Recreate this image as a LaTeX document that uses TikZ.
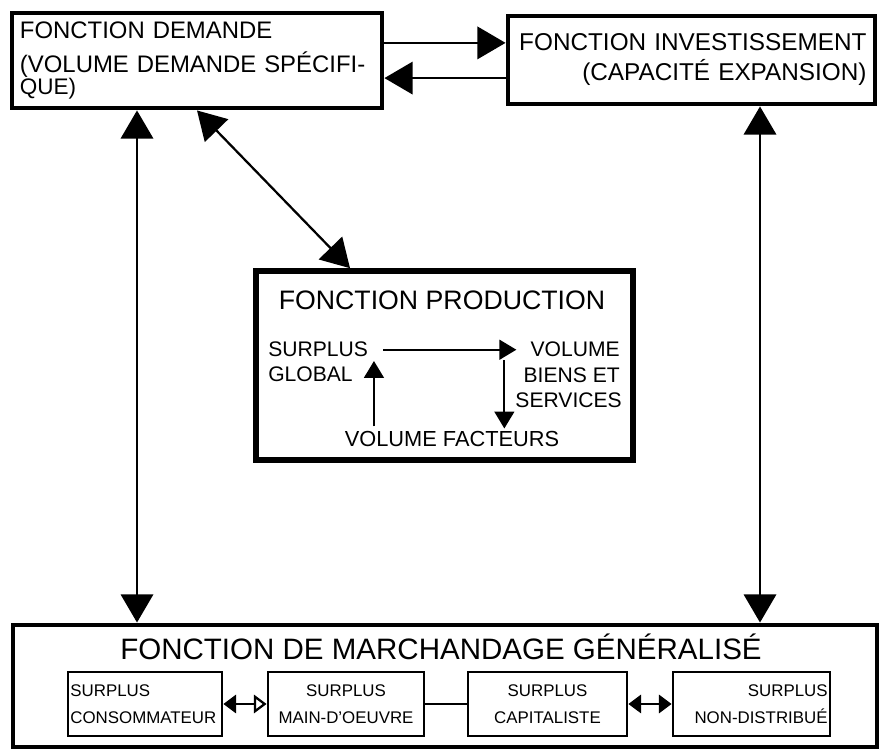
\documentclass[tikz,border=0pt]{standalone}
\usepackage{fontspec}
\setmainfont{Liberation Sans}
\usetikzlibrary{arrows.meta}

\begin{document}
\begin{tikzpicture}[
	bloc/.style={draw, line width=3.5pt, inner xsep=0.2cm, inner ysep=0pt},
	sousbloc/.style={draw, line width=2pt, minimum height=1.6cm, inner xsep=0.06cm, inner ysep=0pt, font=\fontsize{12}{19}\selectfont},
	texte/.style={inner sep=0pt, font=\fontsize{15}{15}\selectfont},
	grandefleche/.style={line width=1.6pt, >={Triangle[length=20pt,width=23pt]}},
	moyfleche/.style={line width=1.6pt, >={Triangle[length=12pt,width=14pt]}},
	petitefleche/.style={line width=1.6pt, >={Triangle[length=9pt,width=13pt]}}
]
	\useasboundingbox (0,0) rectangle (22,18.775);

	\node[bloc, minimum width=9.25cm, minimum height=2.375cm, text width=8.85cm, align=left, font=\fontsize{17}{24.5}\selectfont] (demande) at (4.925,17.2625) {FONCTION DEMANDE\\(VOLUME DEMANDE SPÉCIFI-\\[-9pt]{\fontsize{16}{16}\selectfont QUE)}};
	\node[bloc, minimum width=9.175cm, minimum height=2.2cm, text width=8.75cm, align=right, font=\fontsize{17.3}{21.3}\selectfont] (invest) at (17.2875,17.275) {FONCTION INVESTISSEMENT\\(CAPACITÉ EXPANSION)};

	\draw[grandefleche, ->] ([yshift=0.44cm]demande.east) -- ([yshift=0.44cm]demande.east -| invest.west);
	\draw[grandefleche, <-] ([yshift=-0.44cm]demande.east) -- ([yshift=-0.44cm]demande.east -| invest.west);

	
	\node[bloc, line width=4pt, minimum width=9.425cm, minimum height=4.725cm] (production) at (11.1125,9.6375) {};
	\node[texte, anchor=base, font=\fontsize{19}{19}\selectfont] (prodtitre) at (11.05,11.025) {FONCTION PRODUCTION};
	\node[texte, anchor=base west] (surplus) at (6.7,9.85) {SURPLUS};
	\node[texte, anchor=base west] (global) at (6.7,9.225) {GLOBAL};
	\node[texte, anchor=base east] (volume) at (15.5,9.85) {VOLUME};
	\node[texte, anchor=base east] (biens) at (15.5,9.2) {BIENS ET};
	\node[texte, anchor=base east] (services) at (15.55,8.575) {SERVICES};
	\node[texte, anchor=base, font=\fontsize{15.5}{15.5}\selectfont] (facteurs) at (11.3,7.6) {VOLUME FACTEURS};

	\draw[moyfleche, ->, shorten <=0.375cm] (surplus.east) -- ([xshift=-0.175cm]surplus.east -| biens.west);
	\draw[moyfleche, ->, shorten <=0.125cm] ([xshift=0.525cm]global.east |- facteurs.north) -- ([xshift=0.525cm,yshift=0.15cm]global.north east);
	\draw[moyfleche, ->, shorten <=0.075cm, shorten >=0.075cm] ([xshift=-0.475cm]biens.west |- volume.south) -- ([xshift=-0.475cm]biens.west |- facteurs.north);

	
	\node[bloc, minimum width=21.6cm, minimum height=3.05cm] (marchandage) at (11.125,1.625) {};
	\node[texte, anchor=base, font=\fontsize{21}{21}\selectfont] (martitre) at (11.025,2.275) {FONCTION DE MARCHANDAGE GÉNÉRALISÉ};
	\node[sousbloc, minimum width=3.85cm, text width=3.73cm, align=left] (consommateur) at (3.625,1.175) {SURPLUS\\CONSOMMATEUR};
	\node[sousbloc, minimum width=3.9cm, text width=3.78cm, align=center] (maindoeuvre) at (8.65,1.175) {SURPLUS\\MAIN-D'OEUVRE};
	\node[sousbloc, minimum width=3.975cm, text width=3.855cm, align=center] (capitaliste) at (13.6875,1.175) {SURPLUS\\CAPITALISTE};
	\node[sousbloc, minimum width=3.925cm, text width=3.805cm, align=right] (nondistribue) at (18.7875,1.175) {SURPLUS\\NON-DISTRIBUÉ};

	\draw[petitefleche, {Triangle[length=9pt,width=13pt]}-{Triangle[open,length=9pt,width=13pt]}] (consommateur) -- (maindoeuvre);
	\draw[line width=1.5pt] (maindoeuvre) -- (capitaliste);
	\draw[petitefleche, <->] (capitaliste) -- (nondistribue);

	
	\draw[grandefleche, <->] ([xshift=-1.5cm]demande.south) -- ([xshift=-1.5cm]demande.south |- marchandage.north);
	\draw[grandefleche, <->] ([xshift=1.7125cm]invest.south) -- ([xshift=1.7125cm]invest.south |- marchandage.north);
	\draw[grandefleche, <->] (demande.south) -- ([xshift=-2.3625cm]production.north);
\end{tikzpicture}
\end{document}
